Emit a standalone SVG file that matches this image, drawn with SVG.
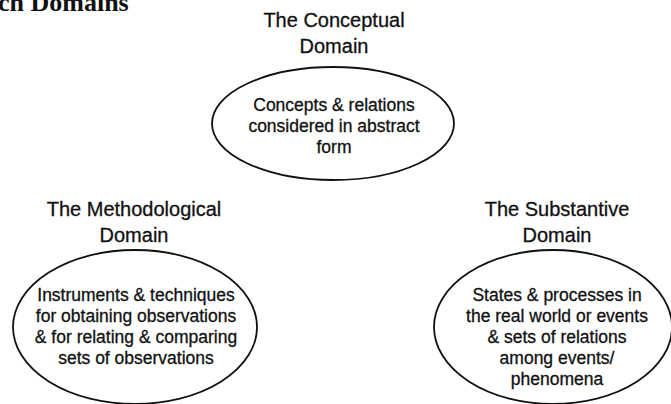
<svg xmlns="http://www.w3.org/2000/svg" width="671" height="404" viewBox="0 0 671 404">
  <style>
    .bg { fill: #ffffff; }
    .oval { fill: none; stroke: #111111; stroke-width: 1.8; }
    .title { font-family: "Liberation Sans", Arial, sans-serif; font-size: 20px; fill: #111111; stroke: #111111; stroke-width: 0.3; text-anchor: middle; }
    .body { font-family: "Liberation Sans", Arial, sans-serif; font-size: 17.5px; fill: #111111; stroke: #111111; stroke-width: 0.3; text-anchor: middle; }
    .heading { font-family: "Liberation Serif", "Times New Roman", serif; font-size: 26px; font-weight: bold; fill: #111111; }
  </style>

  <rect class="bg" x="0" y="0" width="671" height="404"/>

  <!-- page heading, clipped by the top edge -->
  <text class="heading" x="-2" y="11">ch Domains</text>

  <!-- conceptual domain -->
  <g id="conceptual">
    <text class="title" x="334" y="26.5">The Conceptual</text>
    <text class="title" x="334" y="53">Domain</text>
    <ellipse class="oval" cx="333" cy="123.5" rx="121" ry="56.5"/>
    <text class="body" x="334" y="111">Concepts &amp; relations</text>
    <text class="body" x="334" y="132">considered in abstract</text>
    <text class="body" x="334" y="153">form</text>
  </g>

  <!-- methodological domain -->
  <g id="methodological">
    <text class="title" x="134" y="216">The Methodological</text>
    <text class="title" x="134" y="242">Domain</text>
    <ellipse class="oval" cx="135" cy="327" rx="122" ry="77"/>
    <text class="body" x="136" y="301">Instruments &amp; techniques</text>
    <text class="body" x="136" y="322">for obtaining observations</text>
    <text class="body" x="136" y="343">&amp; for relating &amp; comparing</text>
    <text class="body" x="136" y="364">sets of observations</text>
  </g>

  <!-- substantive domain -->
  <g id="substantive">
    <text class="title" x="557" y="216">The Substantive</text>
    <text class="title" x="557" y="242">Domain</text>
    <ellipse class="oval" cx="553" cy="327" rx="119" ry="77"/>
    <text class="body" x="557" y="301">States &amp; processes in</text>
    <text class="body" x="557" y="322">the real world or events</text>
    <text class="body" x="557" y="343">&amp; sets of relations</text>
    <text class="body" x="557" y="364">among events/</text>
    <text class="body" x="557" y="385">phenomena</text>
  </g>

  <g id="connectors"/>
</svg>
